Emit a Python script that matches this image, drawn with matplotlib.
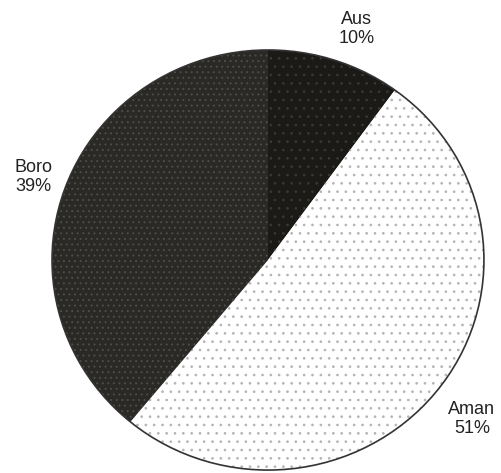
import matplotlib
matplotlib.use('Agg')
import matplotlib.pyplot as plt

plt.rcParams['font.family'] = ['Liberation Sans', 'DejaVu Sans']
plt.rcParams['hatch.linewidth'] = 0.7

seasons = ['Aus', 'Aman', 'Boro']
shares = [10, 51, 39]

face_colors = ['#1c1a17', '#ffffff', '#2a2926']
hatch_colors = ['#3a3834', '#b4b4b4', '#4e4d48']
hatches = ['..', '..', '...']
label_xy = [(0.412, 1.10), (0.944, -0.757), (-1.088, 0.395)]

fig = plt.figure(figsize=(5.01, 4.73), dpi=100)
ax = fig.add_axes([0, 0, 1, 1])

wedges, texts = ax.pie(
    shares,
    labels=[f'{s}\n{v}%' for s, v in zip(seasons, shares)],
    startangle=90,
    counterclock=False,
    radius=1.0,
    wedgeprops=dict(linewidth=0),
    textprops=dict(fontsize=13, color='#222222', ha='center', va='center'),
)

for w, fc, hc, h in zip(wedges, face_colors, hatch_colors, hatches):
    w.set_facecolor(fc)
    w.set_edgecolor(hc)
    w.set_hatch(h)

for t, xy in zip(texts, label_xy):
    t.set_position(xy)
    t.set_ha('center')
    t.set_va('center')
    t.set_multialignment('center')
    t.set_linespacing(1.1)

ax.add_patch(plt.Circle((0, 0), 1.0, fill=False, edgecolor='#333333', linewidth=1.2))

# the scanned pie is slightly wider than tall, so the axes are not square
ax.set_xlim(-1.241, 1.079)
ax.set_ylim(-1.014, 1.238)
ax.set_aspect('auto')
ax.axis('off')

fig.savefig('out.png', dpi=100, facecolor='white')
